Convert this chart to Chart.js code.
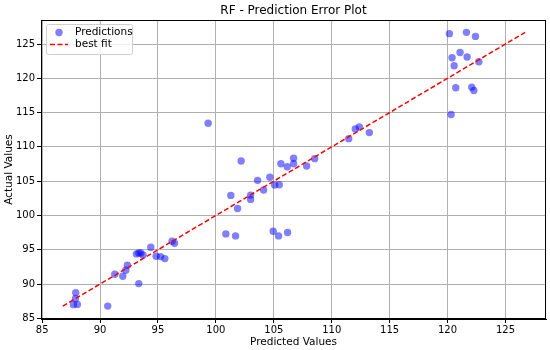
<!DOCTYPE html>
<html>
<head>
<meta charset="utf-8">
<script src="https://cdn.jsdelivr.net/npm/chart.js@4"></script>
<style>
  html, body { margin: 0; padding: 0; background: #fff; }
  #wrap { width: 550px; height: 350px; }
</style>
</head>
<body>
<div id="wrap"><canvas id="chart" width="550" height="350"></canvas></div>
<script>
// values
var predicted = [
  87.90, 87.87, 87.70, 88.04, 90.66, 91.27, 91.96, 92.36, 92.22, 93.34,
  93.14, 93.34, 93.51, 93.71, 94.38, 94.84, 95.22, 95.59, 96.22, 96.43,
  99.33, 102.18, 101.29, 101.87, 103.00, 103.00, 103.60, 104.12, 104.66, 105.07,
  105.47, 105.61, 106.16, 106.71, 106.71, 107.83, 108.53, 100.86, 101.70, 104.95,
  105.41, 106.19, 111.47, 112.04, 112.38, 113.25,
  120.16, 121.63, 122.41, 121.08, 120.39, 121.69, 122.70, 120.57, 120.71, 122.09,
  122.27, 120.31
];
var actual = [
  88.74, 87.87, 86.99, 87.03, 86.78, 91.42, 91.13, 92.73, 92.00, 90.06,
  94.39, 94.53, 94.53, 94.24, 95.37, 94.05, 94.00, 93.71, 96.24, 95.95,
  113.45, 107.94, 102.92, 101.02, 102.97, 102.34, 105.12, 103.70, 105.56, 104.43,
  104.47, 107.54, 107.11, 108.33, 107.54, 107.21, 108.28, 97.31, 97.02, 97.70,
  97.02, 97.51, 111.20, 112.62, 112.91, 112.08,
  126.51, 126.70, 126.11, 123.77, 123.00, 123.10, 122.41, 121.83, 118.61, 118.71,
  118.22, 114.71
];
var fitEnds = [86.78, 126.70];
var xTicks = [85, 90, 95, 100, 105, 110, 115, 120, 125];
var yTicks = [85, 90, 95, 100, 105, 110, 115, 120, 125];

var FONT = "'DejaVu Sans', sans-serif";

var points = predicted.map(function (x, i) { return { x: x, y: actual[i] }; });
var fitLine = fitEnds.map(function (v) { return { x: v, y: v }; });

// matplotlib-like frame, title and legend box
var decor = {
  id: "decor",
  afterDraw: function (chart) {
    var ctx = chart.ctx;
    var a = chart.chartArea;
    ctx.save();
    ctx.strokeStyle = "#000";
    ctx.lineWidth = 1;
    ctx.strokeRect(a.left + 0.5, a.top + 0.5, a.right - a.left - 1, a.bottom - a.top - 1);

    ctx.fillStyle = "#000";
    ctx.font = "12px " + FONT;
    ctx.textAlign = "center";
    ctx.textBaseline = "middle";
    ctx.fillText("RF - Prediction Error Plot", (a.left + a.right) / 2, 11);

    // legend
    var lx = a.left + 5, ly = a.top + 4, lw = 86, lh = 30;
    ctx.fillStyle = "rgba(255,255,255,0.8)";
    ctx.strokeStyle = "#d0d0d0";
    ctx.beginPath();
    ctx.roundRect(lx + 0.5, ly + 0.5, lw, lh, 2);
    ctx.fill();
    ctx.stroke();

    ctx.fillStyle = "rgba(0,0,255,0.5)";
    ctx.beginPath();
    ctx.arc(lx + 13, ly + 8.5, 3.7, 0, Math.PI * 2);
    ctx.fill();

    ctx.strokeStyle = "red";
    ctx.lineWidth = 1.5;
    ctx.setLineDash([5, 2.5]);
    ctx.beginPath();
    ctx.moveTo(lx + 4, ly + 20.5);
    ctx.lineTo(lx + 22, ly + 20.5);
    ctx.stroke();
    ctx.setLineDash([]);

    ctx.fillStyle = "#000";
    ctx.font = "10.5px " + FONT;
    ctx.textAlign = "left";
    ctx.fillText("Predictions", lx + 29, ly + 8.5);
    ctx.fillText("best fit", lx + 29, ly + 20.5);
    ctx.restore();
  }
};

new Chart(document.getElementById("chart").getContext("2d"), {
  type: "scatter",
  data: {
    datasets: [
      {
        label: "Predictions",
        data: points,
        backgroundColor: "rgba(0,0,255,0.5)",
        borderWidth: 0,
        pointRadius: 3.7,
        pointHoverRadius: 3.7,
        order: 2
      },
      {
        label: "best fit",
        type: "line",
        data: fitLine,
        borderColor: "red",
        borderWidth: 1.5,
        borderDash: [5, 2.5],
        pointRadius: 0,
        fill: false,
        order: 1
      }
    ]
  },
  options: {
    responsive: false,
    animation: false,
    events: [],
    layout: { padding: { top: 20, right: 4, left: 0, bottom: 0 } },
    plugins: {
      legend: { display: false },
      tooltip: { enabled: false },
      title: { display: false }
    },
    scales: {
      x: {
        type: "linear",
        min: 84.9,
        max: 128.5,
        afterBuildTicks: function (axis) {
          axis.ticks = xTicks.map(function (v) { return { value: v }; });
        },
        afterFit: function (axis) { axis.height = 31; },
        grid: { color: "#b0b0b0", lineWidth: 1, tickColor: "#000", tickLength: 4 },
        border: { display: true, color: "#000", width: 1 },
        ticks: { color: "#000", font: { family: FONT, size: 10 }, padding: 1, maxRotation: 0 },
        title: {
          display: true,
          text: "Predicted Values",
          color: "#000",
          font: { family: FONT, size: 10.5 },
          padding: { top: 0, bottom: 1 }
        }
      },
      y: {
        type: "linear",
        min: 84.9,
        max: 128.5,
        afterBuildTicks: function (axis) {
          axis.ticks = yTicks.map(function (v) { return { value: v }; });
        },
        afterFit: function (axis) { axis.width = 41; },
        grid: { color: "#b0b0b0", lineWidth: 1, tickColor: "#000", tickLength: 4 },
        border: { display: true, color: "#000", width: 1 },
        ticks: { color: "#000", font: { family: FONT, size: 10 }, padding: 2 },
        title: {
          display: true,
          text: "Actual Values",
          color: "#000",
          font: { family: FONT, size: 10.5 },
          padding: { top: 3, bottom: 0 }
        }
      }
    }
  },
  plugins: [decor]
});
</script>
</body>
</html>
